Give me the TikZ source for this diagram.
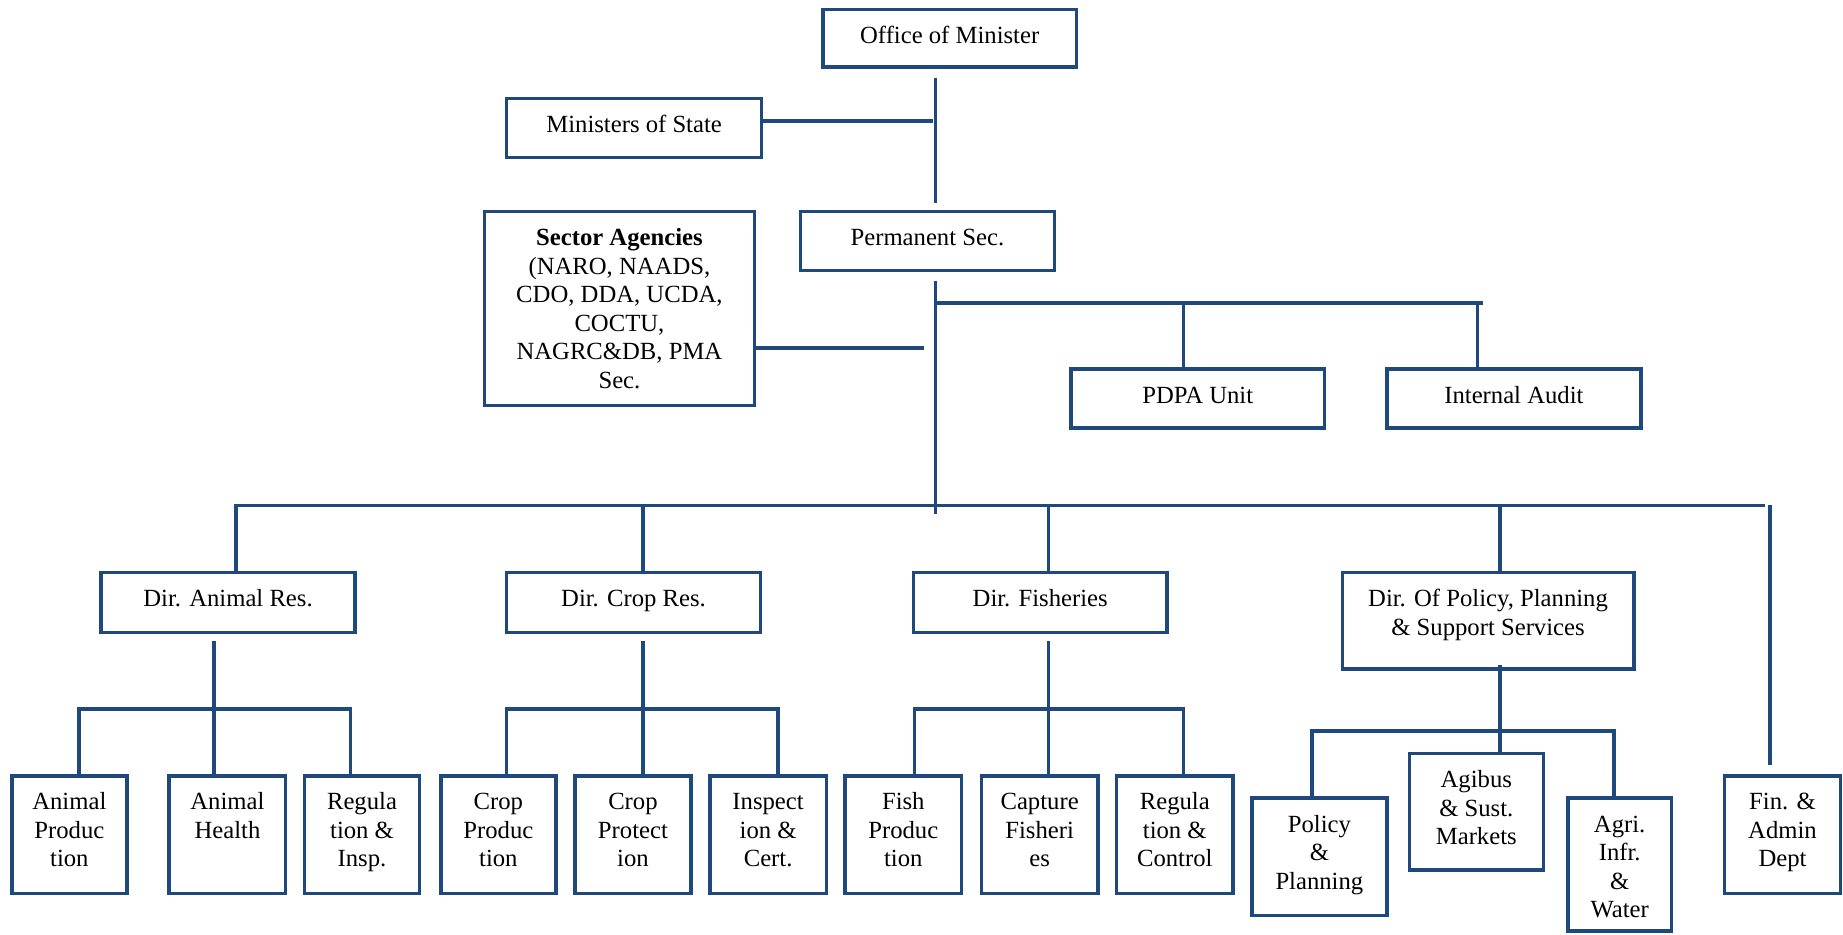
\documentclass[tikz,border=0pt]{standalone}
\usepackage{fontspec}
\setmainfont{Liberation Serif}
\definecolor{dblue}{RGB}{31,73,125}
\newcommand{\obox}[6]{%
  \node[obox] (#1) at ({(#2+#4)/2},{(#3+#5)/2})
   {\parbox[t][\dimexpr#5pt-#3pt\relax][t]{\dimexpr#4pt-#2pt\relax}{\centering\rule{0pt}{29pt}#6\par}};}
\begin{document}
\begin{tikzpicture}[x=1pt,y=-1pt,
  obox/.style={draw=dblue, line width=3pt, inner sep=0pt, fill=white,
    font=\fontsize{21}{24.3}\selectfont},
  conn/.style={draw=dblue, line width=3pt, line join=miter}]
\fill[white] (0,0) rectangle (1568,795);
\useasboundingbox (0,0) rectangle (1568,795);
% top level
\obox{office}{700}{8}{916}{57}{Office of Minister}
\obox{ministers}{431}{84}{648}{134}{Ministers of State}
\obox{permsec}{681}{180}{897}{230}{Permanent Sec.}
\obox{sector}{412}{180}{642}{345}{\textbf{Sector Agencies}\\(NARO, NAADS,\\CDO, DDA, UCDA,\\COCTU,\\NAGRC\&DB, PMA\\Sec.}
\obox{pdpa}{911}{314}{1127}{364}{PDPA Unit}
\obox{audit}{1180}{314}{1396}{364}{Internal Audit}
% directorates
\obox{dAnimal}{86}{487}{302}{538}{Dir. Animal Res.}
\obox{dCrop}{431}{487}{647}{538}{Dir. Crop Res.}
\obox{dFish}{777}{487}{993}{538}{Dir. Fisheries}
\obox{dPolicy}{1142}{487}{1390}{569}{Dir. Of Policy, Planning\\\& Support Services}
% leaves
\obox{aProd}{10}{660}{108}{760}{Animal\\Produc\\tion}
\obox{aHealth}{144}{660}{243}{760}{Animal\\Health}
\obox{aReg}{259}{660}{357}{760}{Regula\\tion \&\\Insp.}
\obox{cProd}{375}{660}{473}{760}{Crop\\Produc\\tion}
\obox{cProt}{489}{660}{588}{760}{Crop\\Protect\\ion}
\obox{cInsp}{604}{660}{703}{760}{Inspect\\ion \&\\Cert.}
\obox{fProd}{719}{660}{818}{760}{Fish\\Produc\\tion}
\obox{fCap}{835}{660}{934}{760}{Capture\\Fisheri\\es}
\obox{fReg}{950}{660}{1049}{760}{Regula\\tion \&\\Control}
\obox{pPol}{1065}{679}{1180}{779}{Policy\\\&\\Planning}
\obox{pAgi}{1199}{641}{1313}{740}{Agibus\\\& Sust.\\Markets}
\obox{pAgr}{1334}{679}{1422}{792}{Agri.\\Infr.\\\&\\Water}
\obox{fin}{1467}{660}{1566}{760}{Fin. \&\\Admin\\Dept}
% connectors: top
\coordinate (t1a) at (796,66);
\coordinate (t1b) at (796,173);
\draw[conn] (t1a) -- (t1b);
\coordinate (jm) at (794,103);
\draw[conn] (ministers.east |- jm) -- (jm);
\coordinate (t2a) at (796,239);
\coordinate (t2b) at (796,437);
\draw[conn] (t2a) -- (t2b);
\coordinate (js) at (786,296);
\draw[conn] (sector.east |- js) -- (js);
% upper bus
\coordinate (ubW) at (796,258);
\coordinate (ubE) at (1262,258);
\coordinate (ubP) at (1007,258);
\coordinate (ubA) at (1257,258);
\draw[conn] (ubW) -- (ubE);
\draw[conn] (ubP) -- (ubP |- pdpa.north);
\draw[conn] (ubA) -- (ubA |- audit.north);
% main bus
\coordinate (mbW) at (201,430);
\coordinate (mbE) at (1502,430);
\coordinate (mbC) at (547,430);
\coordinate (mbF) at (892,430);
\coordinate (mbP) at (1276,430);
\coordinate (mbD) at (1506,430);
\coordinate (finTop) at (1506,651);
\draw[conn] (dAnimal.north -| mbW) -- (mbW) -- (mbE);
\draw[conn] (mbC) -- (mbC |- dCrop.north);
\draw[conn] (mbF) -- (mbF |- dFish.north);
\draw[conn] (mbP) -- (mbP |- dPolicy.north);
\draw[conn] (mbD) -- (finTop);
% animal subtree
\coordinate (saT) at (182,545);
\coordinate (saL) at (67,603);
\coordinate (saR) at (298,603);
\draw[conn] (saT) -- (saT |- aHealth.north);
\draw[conn] (aProd.north -| saL) -- (saL) -- (saR) -- (saR |- aReg.north);
% crop subtree
\coordinate (scT) at (547,545);
\coordinate (scL) at (431,603);
\coordinate (scR) at (662,603);
\draw[conn] (scT) -- (scT |- cProt.north);
\draw[conn] (cProd.north -| scL) -- (scL) -- (scR) -- (scR |- cInsp.north);
% fish subtree
\coordinate (sfT) at (892,545);
\coordinate (sfL) at (778,603);
\coordinate (sfR) at (1007,603);
\draw[conn] (sfT) -- (sfT |- fCap.north);
\draw[conn] (fProd.north -| sfL) -- (sfL) -- (sfR) -- (sfR |- fReg.north);
% policy subtree
\coordinate (spT) at (1276,566);
\coordinate (spL) at (1116,622);
\coordinate (spR) at (1373,622);
\draw[conn] (spT) -- (spT |- pAgi.north);
\draw[conn] (pPol.north -| spL) -- (spL) -- (spR) -- (spR |- pAgr.north);
\end{tikzpicture}
\end{document}
